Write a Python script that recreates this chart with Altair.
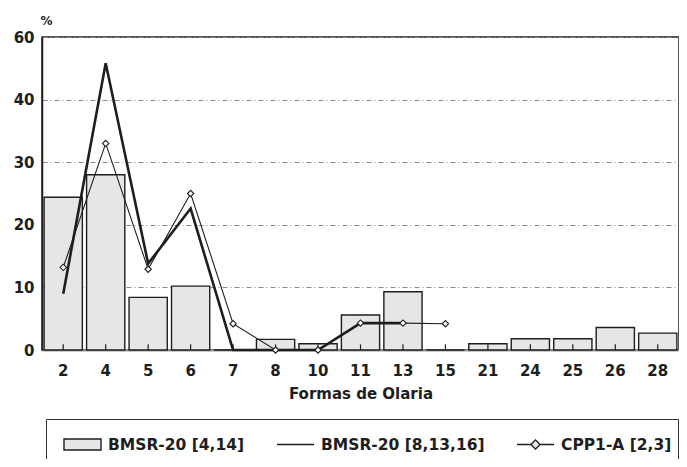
import altair as alt
import pandas as pd

# ---- data ----
categories = ["2", "4", "5", "6", "7", "8", "10", "11", "13", "15", "21", "24", "25", "26", "28"]
bmsr_4_14 = [24.4, 28.0, 8.4, 10.2, 0.0, 1.7, 1.0, 5.6, 9.3, 0.0, 1.0, 1.8, 1.8, 3.6, 2.7]
bmsr_8_13_16_cats = ["2", "4", "5", "6", "7", "8", "10", "11", "13"]
bmsr_8_13_16 = [9.0, 45.8, 13.8, 22.6, 0.0, 0.0, 0.0, 4.3, 4.3]
cpp1a_cats = ["2", "4", "5", "6", "7", "8", "10", "11", "13", "15"]
cpp1a = [13.2, 33.0, 12.9, 25.0, 4.2, 0.0, 0.0, 4.3, 4.3, 4.2]
series_names = ["BMSR-20 [4,14]", "BMSR-20 [8,13,16]", "CPP1-A [2,3]"]
y_ticks = [0, 10, 20, 30, 40, 50]

FONT = "DejaVu Sans"
INK = "#1e1e1e"
BAR_FILL = "#e6e6e6"

bars_df = pd.DataFrame({"forma": categories, "pct": bmsr_4_14})
thick_df = pd.DataFrame({"forma": bmsr_8_13_16_cats, "pct": bmsr_8_13_16})
thin_df = pd.DataFrame({"forma": cpp1a_cats, "pct": cpp1a})
cat_df = pd.DataFrame({"forma": categories})
legend_df = pd.DataFrame({"serie": series_names})

x_enc = alt.X(
    "forma:N",
    sort=categories,
    scale=alt.Scale(domain=categories, paddingInner=0.1, paddingOuter=0.05),
    title="Formas de Olaria",
    axis=alt.Axis(
        labelAngle=0, ticks=False, grid=False,
        domainColor="#9a9a9a", domainWidth=2,
        labelFont=FONT, labelFontWeight="bold", labelFontSize=15, labelColor=INK,
        labelPadding=13, titlePadding=8,
        titleFont=FONT, titleFontWeight="bold", titleFontSize=15, titleColor=INK,
    ),
)
y_axis = alt.Axis(
    values=y_ticks,
    labelExpr="datum.value == 50 ? '60' : datum.label",
    grid=True, gridDash=[5, 3, 1, 3], gridColor="#8a8a8a", gridWidth=1,
    ticks=False, domain=True, domainColor=INK, domainWidth=1.5,
    labelFont=FONT, labelFontWeight="bold", labelFontSize=15, labelColor=INK,
    labelPadding=8,
    title="%", titleAngle=0, titleX=4, titleY=-17, titleAlign="center",
    titleBaseline="middle", titleFont=FONT, titleFontWeight="bold",
    titleFontSize=12, titleColor=INK,
)
y_scale = alt.Scale(domain=[0, 50], nice=False)


def y_enc():
    return alt.Y("pct:Q", scale=y_scale, axis=y_axis)


bars = alt.Chart(bars_df).mark_bar(fill=BAR_FILL, stroke=INK, strokeWidth=1.4).encode(
    x=x_enc, y=y_enc()
)

ticks = alt.Chart(cat_df).mark_rule(color=INK, strokeWidth=1.2).encode(
    x=x_enc, y=alt.datum(0, scale=y_scale, axis=y_axis), y2=alt.datum(0.9)
)

thick = alt.Chart(thick_df).mark_line(color=INK, strokeWidth=2.6).encode(
    x=x_enc, y=y_enc()
)

thin = alt.Chart(thin_df).mark_line(
    color=INK, strokeWidth=1.1,
    point=alt.OverlayMarkDef(shape="diamond", size=40, filled=True, fill="white",
                             stroke=INK, strokeWidth=1.1),
).encode(x=x_enc, y=y_enc())

shape_paths = [
    "M-1,-0.3H1V0.3H-1Z",
    "M-1,0H1",
    "M-1,0H-0.25M0.25,0H1M-0.25,0L0,-0.25L0.25,0L0,0.25Z",
]

legend_def = alt.Legend(
    title=None, orient="none", legendX=4, legendY=382,
    direction="horizontal", columns=3,
    symbolSize=1369, symbolStrokeWidth=1.4, symbolOpacity=1, symbolOffset=11,
    labelFont=FONT, labelFontWeight="bold", labelFontSize=15.5, labelColor=INK,
    labelOffset=6, labelLimit=0, columnPadding=20, padding=6,
    strokeColor="#333333",
)

legend_layer = alt.Chart(legend_df).mark_point(opacity=0, strokeWidth=1.4).encode(
    shape=alt.Shape("serie:N", scale=alt.Scale(domain=series_names, range=shape_paths),
                    legend=legend_def),
    stroke=alt.Stroke("serie:N", scale=alt.Scale(domain=series_names, range=[INK, INK, INK]),
                      legend=legend_def),
    fill=alt.Fill("serie:N", scale=alt.Scale(domain=series_names,
                                             range=[BAR_FILL, BAR_FILL, BAR_FILL]),
                  legend=legend_def),
)

chart = alt.layer(bars, ticks, thick, thin, legend_layer).properties(
    width=637,
    height=313,
    autosize="none",
    padding={"left": 34, "top": 29, "right": 0, "bottom": 109},
).configure_view(stroke=INK, strokeWidth=1.5)

chart.save("out.html", embed_options={"renderer": "svg", "actions": False})
